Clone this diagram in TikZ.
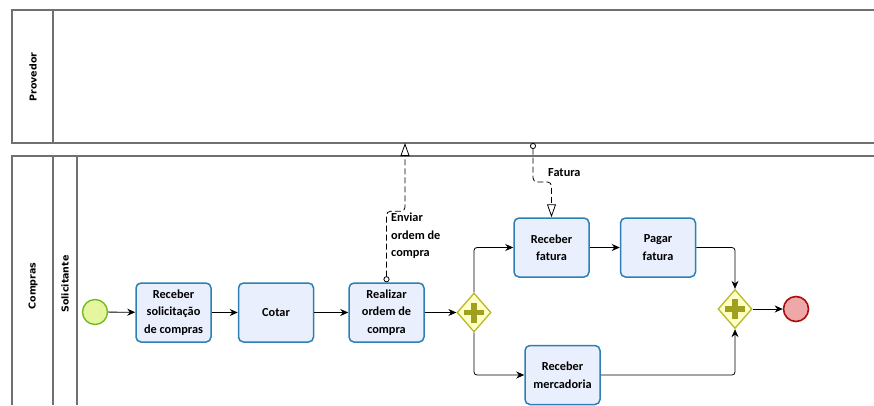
\documentclass[tikz,border=0pt]{standalone}
\usepackage{fontspec}
\setmainfont{Carlito}
\newfontfamily\lanefont{DejaVu Sans}
\usetikzlibrary{shapes.geometric,arrows.meta,positioning}

\definecolor{taskfill}{RGB}{233,239,252}
\definecolor{taskline}{RGB}{44,128,180}
\definecolor{gwfill}{RGB}{255,255,200}
\definecolor{gwline}{RGB}{185,185,40}
\definecolor{gwplus}{RGB}{160,160,30}
\definecolor{startfill}{RGB}{230,246,160}
\definecolor{startline}{RGB}{112,188,34}
\definecolor{endfill}{RGB}{238,168,168}
\definecolor{endline}{RGB}{168,12,12}
\definecolor{poolline}{RGB}{112,112,112}

\begin{document}
\begin{tikzpicture}[x=1pt,y=-1pt]
\tikzset{pool/.style={draw=poolline,line width=1.4pt}}
\tikzset{lanelabel/.style={rotate=90,font=\lanefont\bfseries\fontsize{9.5}{11}\selectfont}}
\tikzset{task/.style={draw=taskline,fill=taskfill,line width=1.5pt,rounded corners=5pt,
  minimum width=75pt,minimum height=59pt,align=center,inner sep=2pt,
  font=\bfseries\fontsize{12.3}{17.5}\selectfont}}
\tikzset{gateway/.style={diamond,draw=gwline,fill=gwfill,line width=1.3pt,
  minimum width=34pt,minimum height=39pt,inner sep=0pt}}
\tikzset{flow/.style={draw=black,line width=0.8pt,rounded corners=3pt,
  -{Stealth[length=8pt,width=7pt]}}}
\tikzset{msg/.style={draw=black,line width=0.8pt,dash pattern=on 6pt off 3pt,rounded corners=4pt,
  {Circle[open,length=6pt,width=6pt]}-{Triangle[open,length=13pt,width=9pt]}}}
\tikzset{msglabel/.style={align=left,inner sep=0pt,font=\bfseries\fontsize{12.3}{17.5}\selectfont}}
\useasboundingbox (0,0) rectangle (874,405);

% pools and lanes
\draw[pool] (874,10) -- (12,10) -- (12,143) -- (874,143);
\draw[pool] (53,10) -- (53,143);
\draw[pool] (874,156) -- (12,156) -- (12,405);
\draw[pool] (53,156) -- (53,405);
\draw[pool] (77,156) -- (77,405);
\node[lanelabel] (provedor) at (33,77) {Provedor};
\node[lanelabel] (compras) at (33,286) {Compras};
\node[lanelabel] (solicitante) at (65,284) {Solicitante};

% events and tasks
\node[circle,draw=startline,fill=startfill,line width=1.4pt,minimum size=25pt,inner sep=0pt] (start) at (95,312) {};
\node[task] (recv) at (173.5,312.5) {Receber\\solicitação\\de compras};
\node[task] (cotar) at (276,312.5) {Cotar};
\node[task] (realizar) at (386.5,312.5) {Realizar\\ordem de\\compra};
\node[gateway] (gw1) at (474,312.5) {};
\node[task] (fatura) at (551.5,247.5) {Receber\\fatura};
\node[task] (pagar) at (658,247.5) {Pagar\\fatura};
\node[task] (merc) at (562.5,375) {Receber\\mercadoria};
\node[gateway] (gw2) at (735,309) {};
\node[circle,draw=endline,fill=endfill,line width=1.6pt,minimum size=25pt,inner sep=0pt] (end) at (796,309) {};

% plus signs
\foreach \g in {gw1,gw2}
  \draw[gwplus,line width=5.5pt] ([yshift=-10pt]\g.center) -- ([yshift=10pt]\g.center)
    ([xshift=-10pt]\g.center) -- ([xshift=10pt]\g.center);

% sequence flows
\draw[flow] (start) -- (recv);
\draw[flow] (recv) -- (cotar);
\draw[flow] (cotar) -- (realizar);
\draw[flow] (realizar) -- (gw1);
\draw[flow] (gw1.north) |- (fatura.west);
\draw[flow] (gw1.south) |- (merc.west);
\draw[flow] (fatura) -- (pagar);
\draw[flow] (pagar.east) -| (gw2.north);
\draw[flow] (merc.east) -| (gw2.south);
\draw[flow] (gw2) -- (end);

% message flows
\coordinate (ordem) at (405,143);
\coordinate (fat) at (533,143);
\draw[msg] (realizar.north) -- ++(0,-71) -| (ordem);
\draw[msg] (fat) -- ++(0,39) -| (fatura.north);
\node[msglabel,anchor=north west] (ordemlabel) at (391,213) {Enviar\\ordem de\\compra};
\node[msglabel,anchor=west] (fatlabel) at (548,173) {Fatura};
\end{tikzpicture}
\end{document}
